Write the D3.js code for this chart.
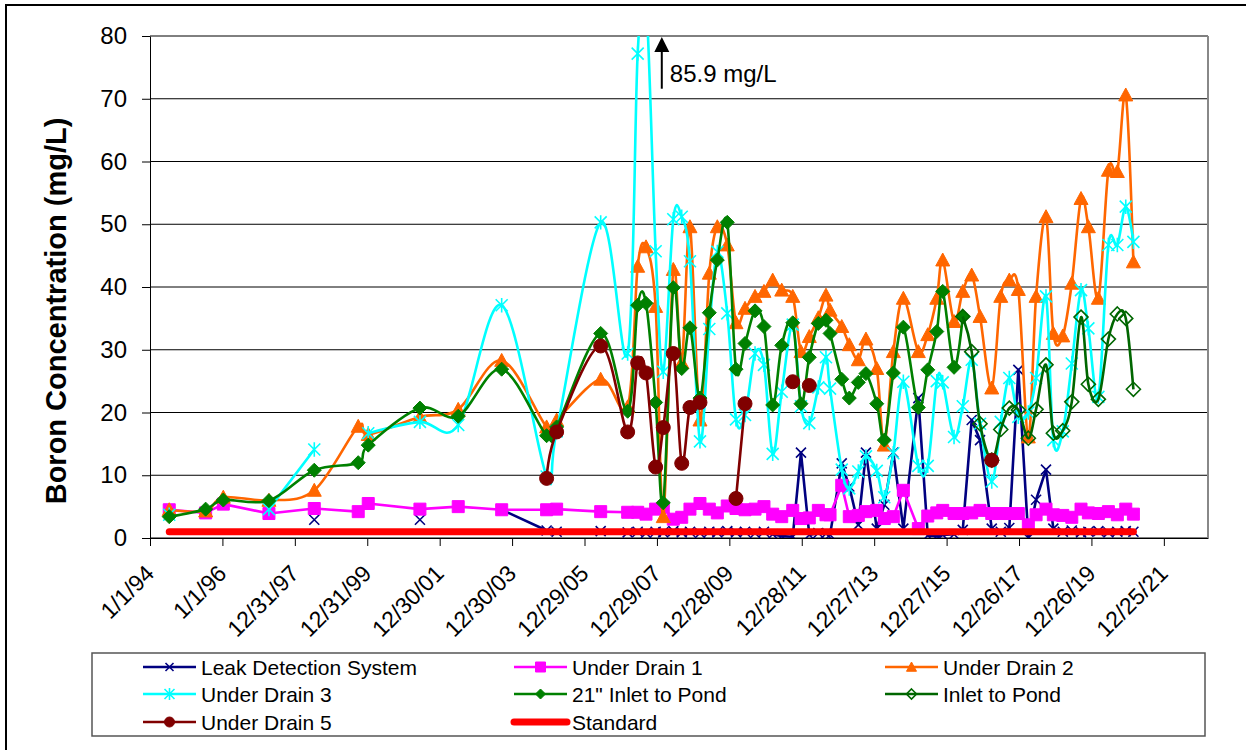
<!DOCTYPE html>
<html>
<head>
<meta charset="utf-8">
<script src="https://cdn.jsdelivr.net/npm/d3@7"></script>
<style>
body { margin: 0; background: #fff; }
svg { font-family: "Liberation Sans", Arial, sans-serif; }
</style>
</head>
<body>
<svg id="boron-chart" width="1246" height="750"></svg>
<script>
// sampling dates (one per sampling event)
const sampleDates = [
    "1994-07-14", "1995-07-16", "1996-01-10", "1997-04-14", "1998-07-15", "1999-10-01", "2000-01-10", "2001-06-14", "2002-07-05", "2003-09-16",
    "2004-12-12", "2005-03-23", "2006-06-10", "2007-03-09", "2007-06-18", "2007-09-10", "2007-12-16", "2008-03-02", "2008-06-11", "2008-09-04",
    "2008-11-26", "2009-03-07", "2009-06-09", "2009-08-29", "2009-12-07", "2010-03-05", "2010-06-04", "2010-09-13", "2010-12-12", "2011-03-10",
    "2011-06-09", "2011-09-28", "2011-12-20", "2012-03-13", "2012-06-12", "2012-08-28", "2012-10-08", "2013-02-03", "2013-04-20", "2013-07-20",
    "2013-10-05", "2014-01-22", "2014-04-08", "2014-07-08", "2014-10-17", "2015-03-17", "2015-06-20", "2015-09-19", "2015-11-18", "2016-03-11",
    "2016-06-07", "2016-09-05", "2016-11-28", "2017-03-26", "2017-06-25", "2017-09-19", "2017-12-19", "2018-03-30", "2018-06-16", "2018-09-24",
    "2018-12-07", "2019-03-12", "2019-06-11", "2019-09-12", "2019-11-25", "2020-03-05", "2020-06-14", "2020-09-12", "2020-12-06", "2021-02-21"
];

// boron, mg/L (null = not sampled)
const leakDetection = [
    null, null, null, null, 2.9, null, null, 2.9, null, 4.5,
    1.2, 1.0, 1.1, 0.9, 1.0, 0.8, 1.0, 0.9, 1.1, 0.9,
    1.0, 0.8, 1.0, 0.9, 1.1, 0.9, 1.0, 0.8, 1.0, 0.6,
    0.3, 0.2, 13.6, 0.5, 0.8, 0.7, 0.5, 11.9, 8.2, 2.1,
    13.6, 1.5, 5.3, 13.6, 1.5, 22.3, 0.4, 0.3, 0.5, 0.6,
    1.3, 18.8, 15.6, 1.5, 1.0, 1.6, 26.8, 0.0, 6.1, 10.9,
    1.5, 1.0, 1.2, 0.9, 1.0, 1.1, 0.9, 1.0, 1.1, 1.0
];
const underDrain1 = [
    4.5, 4.0, 5.4, 3.9, 4.7, 4.2, 5.5, 4.6, 5.0, 4.5,
    4.5, 4.6, 4.2, 4.1, 4.1, 3.8, 4.6, 4.9, 3.0, 3.3,
    4.6, 5.5, 4.6, 4.0, 5.1, 4.7, 4.5, 4.6, 5.0, 3.8,
    3.4, 4.4, 3.1, 3.2, 4.4, 3.7, 3.7, 8.4, 3.4, 3.6,
    4.2, 4.4, 3.1, 3.4, 7.6, 1.5, 3.5, 4.0, 4.4, 3.9,
    3.9, 4.0, 4.4, 3.9, 3.9, 3.9, 3.9, 2.1, 3.7, 4.6,
    3.7, 3.6, 3.3, 4.6, 4.0, 3.9, 4.2, 3.7, 4.6, 3.8
];
const underDrain2 = [
    4.5, 4.3, 6.5, 6.0, 7.6, 17.8, 16.5, 19.3, 20.5, 28.3,
    17.7, 18.8, 25.3, 20.9, 43.3, 46.4, 36.9, 3.4, 42.8, 28.0,
    49.6, 18.8, 42.2, 49.6, 46.7, 34.3, 36.6, 38.5, 39.3, 41.1,
    39.5, 38.5, 29.7, 32.1, 35.1, 38.7, 36.3, 33.7, 30.8, 28.4,
    31.7, 27.0, 14.8, 29.7, 38.2, 29.7, 32.4, 38.2, 44.3, 34.5,
    39.3, 41.9, 35.3, 23.9, 38.5, 41.1, 39.6, 16.1, 38.5, 51.2,
    32.6, 32.2, 40.6, 54.1, 49.6, 38.2, 58.6, 58.4, 70.6, 44.0
];
const underDrain3 = [
    3.7, null, null, 4.6, 14.1, null, 16.7, 18.5, 18.0, 37.1,
    9.8, 17.0, 50.3, 29.4, 77.2, 85.9, 45.7, 26.5, 50.8, 51.2,
    44.1, 15.4, 33.3, 45.6, 35.8, 18.9, 19.6, 29.4, 27.6, 13.4,
    23.3, 34.0, 21.0, 18.3, 24.0, 28.8, 23.8, 10.9, 7.9, 10.6,
    13.0, 10.7, 6.5, 13.5, 24.9, 11.5, 11.5, 25.0, 24.8, 16.1,
    21.0, 28.4, 18.2, 9.0, 18.5, 25.5, 19.3, 20.0, 25.5, 38.5,
    15.6, 17.0, 27.8, 39.5, 33.4, 22.5, 46.7, 46.7, 52.8, 47.2
];
const inlet21 = [
    3.4, 4.6, 6.05, 5.95, 10.8, 12.0, 14.8, 20.7, 19.4, 26.9,
    16.3, 17.7, 32.6, 20.2, 37.1, 37.4, 21.6, 5.6, 39.9, 27.0,
    33.5, 22.3, 35.9, 44.3, 50.3, 26.9, 31.0, 36.2, 33.7, 21.2,
    30.7, 34.3, 21.4, 28.8, 34.2, 34.7, 32.6, 25.3, 22.3, 24.8,
    26.2, 21.4, 15.6, 26.3, 33.6, 20.8, 26.8, 32.9, 39.3, 27.2,
    35.3, null, null, null, null, null, null, null, null, null,
    null, null, null, null, null, null, null, null, null, null
];
const inletToPond = [
    null, null, null, null, null, null, null, null, null, null,
    null, null, null, null, null, null, null, null, null, null,
    null, null, null, null, null, null, null, null, null, null,
    null, null, null, null, null, null, null, null, null, null,
    null, null, null, null, null, null, null, null, null, null,
    35.3, 29.7, 18.2, 12.4, 17.3, 20.7, 20.4, 15.9, 20.5, 27.6,
    16.7, 17.1, 21.7, 35.2, 24.5, 22.1, 31.7, 35.7, 35.0, 23.7
];
const underDrain5 = [
    null, null, null, null, null, null, null, null, null, null,
    9.5, 16.9, 30.6, 16.9, 27.9, 26.3, 11.3, 17.6, 29.4, 11.9,
    20.8, 21.6, null, null, null, 6.3, 21.4, null, null, null,
    null, 24.9, null, 24.3, null, null, null, null, null, null,
    null, null, null, null, null, null, null, null, null, null,
    null, null, null, 12.4, null, null, null, null, null, null,
    null, null, null, null, null, null, null, null, null, null
];
const standardDates = ["1994-07-14", "2021-02-21"];
const standardValues = [1.0, 1.0];

const xTickLabels = ["1/1/94", "1/1/96", "12/31/97", "12/31/99", "12/30/01", "12/30/03", "12/29/05", "12/29/07",
    "12/28/09", "12/28/11", "12/27/13", "12/27/15", "12/26/17", "12/26/19", "12/25/21"];
const yTicks = [0, 10, 20, 30, 40, 50, 60, 70, 80];
const peakNote = "85.9 mg/L";

let svg = d3.select("svg#boron-chart"),
    margin = {top: 36, right: 38, bottom: 212, left: 150},
    width = +svg.attr("width") - margin.left - margin.right,
    height = +svg.attr("height") - margin.top - margin.bottom;

let parseDate = d3.timeParse("%Y-%m-%d"),
    parseTick = d3.timeParse("%m/%d/%y");

// outer chart frame
svg.append("rect")
    .attr("x", 6).attr("y", 5)
    .attr("width", 1260).attr("height", 770)
    .attr("fill", "none")
    .attr("stroke", "#000")
    .attr("stroke-width", 2);

let g = svg.append("g").attr("transform", `translate(${margin.left},${margin.top})`);

let x = d3.scaleTime()
    .domain([parseTick(xTickLabels[0]), new Date(2023, 2, 15)])
    .range([0, width]);
let y = d3.scaleLinear().domain([0, 80]).range([height, 0]);

g.append("clipPath").attr("id", "plot-clip")
    .append("rect").attr("width", width).attr("height", height);

// gridlines
g.selectAll(".grid")
    .data(yTicks)
    .enter()
    .append("line")
    .attr("class", "grid")
    .attr("x1", 0).attr("x2", width)
    .attr("y1", d => y(d)).attr("y2", d => y(d))
    .attr("stroke", "#000")
    .attr("stroke-width", 1);

// right edge of plot area
g.append("line")
    .attr("x1", width).attr("x2", width)
    .attr("y1", 0).attr("y2", height)
    .attr("stroke", "#888")
    .attr("stroke-width", 2);

let yAxis = d3.axisLeft(y).tickValues(yTicks).tickSize(8).tickSizeOuter(0).tickPadding(15);
g.append("g")
    .attr("class", "axis axis--y")
    .call(yAxis)
    .call(a => a.selectAll("text").attr("font-size", 24).attr("fill", "#000").attr("font-family", null))
    .call(a => a.selectAll("line, path").attr("stroke", "#000"));

let tickDates = xTickLabels.map(parseTick);
let xAxis = d3.axisBottom(x).tickValues(tickDates).tickSize(8).tickSizeOuter(0)
    .tickFormat((d, i) => xTickLabels[i]);
g.append("g")
    .attr("class", "axis axis--x")
    .attr("transform", `translate(0,${height})`)
    .call(xAxis)
    .call(a => a.selectAll("line, path").attr("stroke", "#000"))
    .call(a => a.selectAll("text")
        .attr("font-size", 23)
        .attr("font-family", null)
        .attr("fill", "#000")
        .attr("x", 0).attr("y", 0).attr("dy", 0)
        .attr("text-anchor", "end")
        .attr("transform", "translate(5,37) rotate(-45)"));

// y axis title
svg.append("text")
    .attr("transform", "translate(66,311) rotate(-90)")
    .attr("text-anchor", "middle")
    .attr("font-size", 29)
    .attr("font-weight", "bold")
    .text("Boron Concentration (mg/L)");

function markerPath(shape, r) {
    switch (shape) {
        case "x": return `M${-r},${-r}L${r},${r}M${-r},${r}L${r},${-r}`;
        case "star": return `M${-r},${-r}L${r},${r}M${-r},${r}L${r},${-r}M0,${-r * 1.2}L0,${r * 1.2}`;
        case "square": return `M${-r},${-r}H${r}V${r}H${-r}Z`;
        case "triangle": return `M0,${-r}L${r},${r * 0.85}L${-r},${r * 0.85}Z`;
        case "diamond": return `M0,${-r}L${r},0L0,${r}L${-r},0Z`;
        case "circle": return d3.symbol(d3.symbolCircle, Math.PI * r * r)();
    }
    return null;
}

function styleMarker(sel, s) {
    if (s.marker === "x" || s.marker === "star") {
        sel.attr("fill", "none").attr("stroke", s.color).attr("stroke-width", 1.6);
    } else if (s.hollow) {
        sel.attr("fill", "none").attr("stroke", s.color).attr("stroke-width", 1.6);
    } else {
        sel.attr("fill", s.color).attr("stroke", s.color).attr("stroke-width", 1);
    }
}

let series = [
    {name: "Leak Detection System", values: leakDetection, color: "#000080", marker: "x", r: 5, smooth: false},
    {name: "Under Drain 1", values: underDrain1, color: "#FF00FF", marker: "square", r: 6, smooth: false},
    {name: "Under Drain 2", values: underDrain2, color: "#FF6600", marker: "triangle", r: 7, smooth: true},
    {name: "Under Drain 3", values: underDrain3, color: "#00FFFF", marker: "star", r: 6, smooth: true},
    {name: "21\" Inlet to Pond", values: inlet21, color: "#008000", marker: "diamond", r: 7, smooth: true},
    {name: "Inlet to Pond", values: inletToPond, color: "#006600", marker: "diamond", r: 7, smooth: true, hollow: true},
    {name: "Under Drain 5", values: underDrain5, color: "#800000", marker: "circle", r: 7, smooth: true}
];

let plot = g.append("g").attr("clip-path", "url(#plot-clip)");

series.forEach(s => {
    let data = sampleDates.map((d, i) => ({date: parseDate(d), value: s.values[i]}));
    let line = d3.line()
        .defined(d => d.value != null)
        .curve(s.smooth ? d3.curveCardinal.tension(0) : d3.curveLinear)
        .x(d => x(d.date))
        .y(d => y(d.value));
    let sg = plot.append("g").attr("class", "series");
    sg.append("path")
        .datum(data)
        .attr("d", line)
        .attr("fill", "none")
        .attr("stroke", s.color)
        .attr("stroke-width", 2.6)
        .attr("stroke-linejoin", "round");
    sg.selectAll(".mark")
        .data(data.filter(d => d.value != null))
        .enter()
        .append("path")
        .attr("class", "mark")
        .attr("transform", d => `translate(${x(d.date)},${y(d.value)})`)
        .attr("d", markerPath(s.marker, s.r))
        .call(styleMarker, s);
});

// standard
let standard = standardDates.map((d, i) => ({date: parseDate(d), value: standardValues[i]}));
plot.append("path")
    .datum(standard)
    .attr("d", d3.line().x(d => x(d.date)).y(d => y(d.value)))
    .attr("fill", "none")
    .attr("stroke", "#FF0000")
    .attr("stroke-width", 7)
    .attr("stroke-linecap", "round");

// off-scale note for the Under Drain 3 peak
let noteX = x(parseDate("2008-02-16"));
g.append("line")
    .attr("x1", noteX).attr("x2", noteX)
    .attr("y1", y(71.6)).attr("y2", y(80) + 12)
    .attr("stroke", "#000").attr("stroke-width", 2);
g.append("path")
    .attr("d", `M${noteX},${y(80) + 1}L${noteX + 7.5},${y(80) + 16}L${noteX - 7.5},${y(80) + 16}Z`)
    .attr("fill", "#000");
g.append("text")
    .attr("x", noteX + 8)
    .attr("y", y(72.7))
    .attr("font-size", 24)
    .text(peakNote);

// legend
let legend = svg.append("g").attr("class", "legend");
legend.append("rect")
    .attr("x", 92).attr("y", 653)
    .attr("width", 1113).attr("height", 83)
    .attr("fill", "#fff")
    .attr("stroke", "#555")
    .attr("stroke-width", 1.5);

let legendItems = series.concat([{name: "Standard", color: "#FF0000", marker: null, standard: true}]);
let colX = [143, 514, 885], rowY = [667, 694, 722];

legendItems.forEach((s, i) => {
    let lx = colX[i % 3], ly = rowY[Math.floor(i / 3)];
    let item = legend.append("g").attr("transform", `translate(${lx},${ly})`);
    item.append("line")
        .attr("x1", 0).attr("x2", 53)
        .attr("stroke", s.color)
        .attr("stroke-width", s.standard ? 7 : 2.6)
        .attr("stroke-linecap", s.standard ? "round" : "butt");
    if (s.marker) {
        item.append("path")
            .attr("transform", "translate(26.5,0)")
            .attr("d", markerPath(s.marker, s.marker === "x" ? 4 : 5))
            .call(styleMarker, s);
    }
    item.append("text")
        .attr("x", 58)
        .attr("dy", "0.36em")
        .attr("font-size", 21)
        .text(s.name);
});
</script>
</body>
</html>
